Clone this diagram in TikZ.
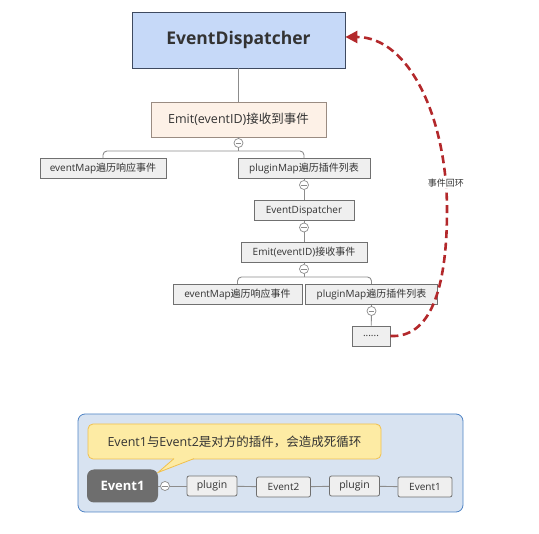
\documentclass[tikz,border=0pt]{standalone}
\usepackage{fontspec}
\setmainfont{Open Sans}
\newfontfamily\cjkfont{Noto Sans CJK SC}
\newcommand{\zh}[1]{{\cjkfont #1}}
\usetikzlibrary{arrows.meta}
\definecolor{topfill}{HTML}{C6D9F8}
\definecolor{topdraw}{HTML}{3E4A60}
\definecolor{emitfill}{HTML}{FDF1E7}
\definecolor{emitdraw}{HTML}{9A8C82}
\definecolor{boxfill}{HTML}{EFEFEF}
\definecolor{boxdraw}{HTML}{707070}
\definecolor{connc}{HTML}{8C8C8C}
\definecolor{loopred}{HTML}{B3282B}
\definecolor{panelfill}{HTML}{D8E3F1}
\definecolor{paneldraw}{HTML}{4E83C4}
\definecolor{callfill}{HTML}{FDEBA4}
\definecolor{calldraw}{HTML}{F0C04E}
\definecolor{darkfill}{HTML}{6E6E6E}
\definecolor{txt}{HTML}{333333}
\begin{document}
\begin{tikzpicture}[x=1pt,y=-1pt,
  smallbox/.style={draw=boxdraw,fill=boxfill,line width=0.8pt,minimum height=20pt,inner sep=0pt,text=txt,font=\fontsize{10}{11}\selectfont},
  plainbox/.style={draw=boxdraw,fill=boxfill,line width=0.8pt,minimum height=20pt,inner sep=0pt,rounded corners=2pt,text=txt,font=\fontsize{10.5}{12}\selectfont},
  togglec/.style={circle,draw=connc,fill=white,line width=0.7pt,minimum size=9pt,inner sep=0pt,
     path picture={\draw[connc,line width=0.7pt] ([xshift=-2.6pt]path picture bounding box.center) -- ([xshift=2.6pt]path picture bounding box.center);}},
  conn/.style={draw=connc,line width=0.9pt},
  loop/.style={draw=loopred,line width=2.6pt,dash pattern=on 8pt off 4.5pt,-{Triangle[length=12pt,width=12pt]}}
]
\useasboundingbox (0,0) rectangle (539,534);

% ---------- tree ----------
\node[draw=topdraw,fill=topfill,line width=0.8pt,minimum width=213pt,minimum height=56pt,inner sep=0pt,
      text=txt,font=\fontsize{17.5}{20}\selectfont\bfseries] (top) at (238.5,40) {EventDispatcher};
\node[draw=emitdraw,fill=emitfill,line width=0.8pt,minimum width=175pt,minimum height=35pt,inner sep=0pt,
      text=txt,font=\fontsize{12.5}{14}\selectfont] (emit) at (238.5,119.5) {Emit(eventID)\zh{接收到事件}};
\node[togglec] (c1) at (238.5,143) {};
\coordinate (j1) at (238.5,151);
\node[smallbox,minimum width=126pt] (e1) at (103,168.5) {eventMap\zh{遍历响应事件}};
\node[smallbox,minimum width=132pt] (p1) at (304,168.5) {pluginMap\zh{遍历插件列表}};
\node[togglec] (c2) at (304,185) {};
\node[smallbox,minimum width=100pt] (ed2) at (304,210.5) {EventDispatcher};
\node[togglec] (c3) at (304,227.5) {};
\node[smallbox,minimum width=126pt] (emit2) at (304,252.5) {Emit(eventID)\zh{接收事件}};
\node[togglec] (c4) at (304,269) {};
\coordinate (j2) at (304,277);
\node[smallbox,minimum width=129pt] (e2) at (237.5,294.5) {eventMap\zh{遍历响应事件}};
\node[smallbox,minimum width=132pt] (p2) at (371.5,294.5) {pluginMap\zh{遍历插件列表}};
\node[togglec] (c5) at (371.5,311) {};
\node[smallbox,minimum width=38pt] (dots) at (371,336) {......};

\draw[conn] (top) -- (emit);
\draw[conn] (emit) -- (c1);
\draw[conn] (c1) -- (j1);
\draw[conn,rounded corners=4pt] (j1) -| (e1);
\draw[conn,rounded corners=4pt] (j1) -| (p1);
\draw[conn] (p1) -- (c2);
\draw[conn] (c2) -- (ed2);
\draw[conn] (ed2) -- (c3);
\draw[conn] (c3) -- (emit2);
\draw[conn] (emit2) -- (c4);
\draw[conn] (c4) -- (j2);
\draw[conn,rounded corners=4pt] (j2) -| (e2);
\draw[conn,rounded corners=4pt] (j2) -| (p2);
\draw[conn] (p2) -- (c5);
\draw[conn] (c5) -- (dots);

% ---------- loop arrow ----------
\draw[loop] (dots.east) .. controls (430,338) and (447,290) .. (447,210)
   .. controls (447,120) and (410,37) .. node[pos=0.1,fill=white,inner sep=0.6pt,text=txt,font=\fontsize{9}{10}\cjkfont] (lbl) {事件回环} ([yshift=3pt]top.east);

% ---------- bottom panel ----------
\node[draw=paneldraw,fill=panelfill,line width=0.8pt,rounded corners=7pt,minimum width=385pt,minimum height=98pt] (panel) at (270.5,463) {};
\node[draw=calldraw,fill=callfill,line width=0.8pt,rounded corners=5pt,minimum width=293pt,minimum height=35pt,inner sep=0pt,
      text=txt,font=\fontsize{12.5}{14}\selectfont] (callout) at (234.5,441.5) {Event1\zh{与}Event2\zh{是对方的插件，会造成死循环}};
\coordinate (tipL) at (174,458.6);
\coordinate (tipR) at (194,458.6);
\coordinate (tip) at (158,472.5);
\fill[callfill] (tipL) -- (tip) -- (tipR) -- ([yshift=1.5pt]tipR) -- ([yshift=1.5pt]tipL) -- cycle;
\draw[calldraw,line width=0.8pt] (tipL) -- (tip) -- (tipR);

\node[fill=darkfill,rounded corners=7pt,minimum width=71pt,minimum height=33pt,inner sep=0pt,
      text=white,font=\fontsize{13}{15}\selectfont\bfseries] (ev1) at (122.5,486) {Event1};
\node[togglec] (c6) at (165,486) {};
\node[plainbox,minimum width=50pt] (pl1) at (212,486) {plugin};
\node[plainbox,minimum width=54pt,font=\fontsize{10}{12}\selectfont] (ev2) at (283.5,487) {Event2};
\node[plainbox,minimum width=50pt] (pl2) at (354.5,486) {plugin};
\node[plainbox,minimum width=54pt,font=\fontsize{10}{12}\selectfont] (ev3) at (425,487) {Event1};
\draw[conn] (ev1) -- (c6);
\draw[conn] (c6) -- (pl1);
\draw[conn] (pl1) -- (ev2);
\draw[conn] (ev2) -- (pl2);
\draw[conn] (pl2) -- (ev3);
\end{tikzpicture}
\end{document}
